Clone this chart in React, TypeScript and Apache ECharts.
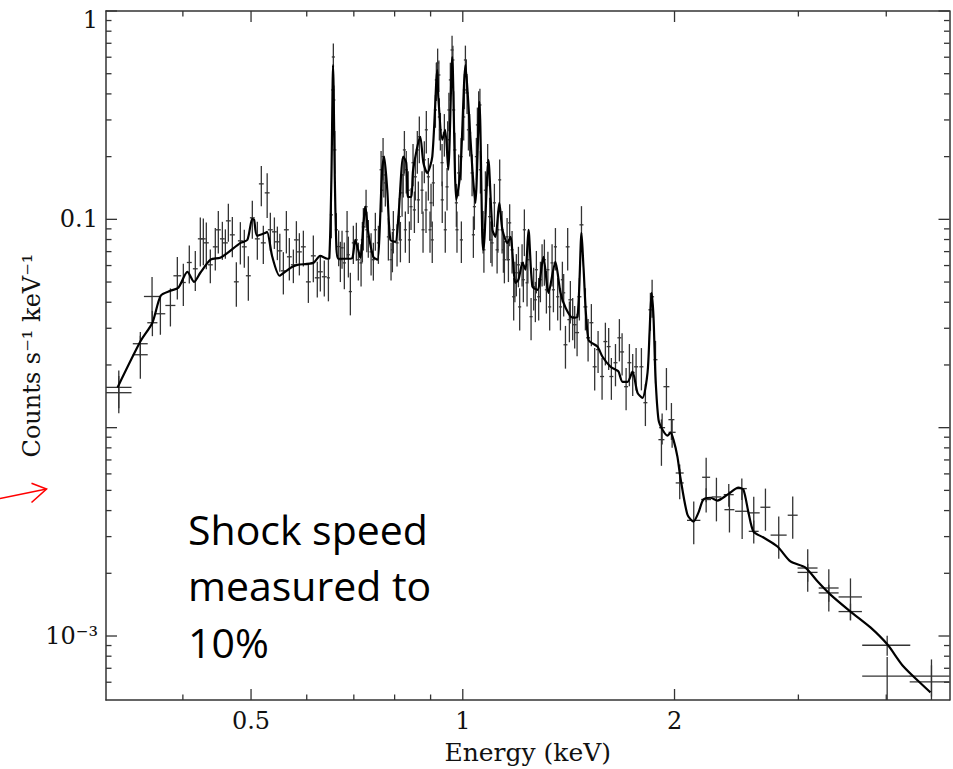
import React, { useEffect, useRef } from 'react';
import * as echarts from 'echarts';

// ---------- data ----------
const xRange = [0.311, 4.92];
const yRange = [0.000493, 1];

const xLabelValues = [0.5, 1, 2];
const xLabelTexts = ['0.5', '1', '2'];
const yLabelValues = [1, 0.1, 0.001];
const yLabelTexts = ['1', '0.1', '10⁻³'];

const xMajorTicks = [0.5, 1, 2];
const xMinorTicks = [0.4, 0.6, 0.7, 0.8, 0.9, 3, 4];
const yMajorTicks = [0.001, 0.01, 0.1, 1];
const yMinorTicks = [
  0.0006, 0.0007, 0.0008, 0.0009,
  0.002, 0.003, 0.004, 0.005, 0.006, 0.007, 0.008, 0.009,
  0.02, 0.03, 0.04, 0.05, 0.06, 0.07, 0.08, 0.09,
  0.2, 0.3, 0.4, 0.5, 0.6, 0.7, 0.8, 0.9,
];

const xTitle = 'Energy (keV)';
const yTitle = 'Counts s⁻¹ keV⁻¹';
const noteLines = ['Shock speed', 'measured to', '10%'];

// model curve: [energy keV, counts s^-1 keV^-1]
const model: [number, number][] = [
  [0.323, 0.0156], [0.348, 0.0259], [0.362, 0.0319], [0.372, 0.043], [0.384, 0.0454],
  [0.394, 0.0469], [0.406, 0.056], [0.415, 0.0501], [0.4235, 0.0554], [0.438, 0.064],
  [0.452, 0.0654], [0.463, 0.069], [0.483, 0.0771], [0.494, 0.0797], [0.502, 0.1005],
  [0.505, 0.0995], [0.51, 0.0834], [0.524, 0.0861], [0.527, 0.0871], [0.536, 0.0661],
  [0.549, 0.0536], [0.559, 0.056], [0.5725, 0.0592], [0.582, 0.0605], [0.613, 0.0618],
  [0.627, 0.0668], [0.642, 0.0647], [0.646, 0.065], [0.6504, 0.1547], [0.654, 0.55],
  [0.6578, 0.1547], [0.6611, 0.0754], [0.6655, 0.0647], [0.692, 0.0647], [0.697, 0.0654],
  [0.7035, 0.0797], [0.71, 0.0714], [0.715, 0.0654], [0.727, 0.115], [0.734, 0.0861],
  [0.746, 0.0661], [0.756, 0.064], [0.768, 0.173], [0.773, 0.2], [0.781, 0.138],
  [0.789, 0.0797], [0.802, 0.078], [0.81, 0.103], [0.823, 0.2], [0.831, 0.187],
  [0.836, 0.128], [0.845, 0.128], [0.85, 0.173], [0.87, 0.249], [0.879, 0.187],
  [0.89, 0.167], [0.905, 0.2], [0.92, 0.52], [0.923, 0.387], [0.935, 0.241],
  [0.944, 0.269], [0.9535, 0.173], [0.966, 0.6], [0.979, 0.124], [0.992, 0.167],
  [1.009, 0.55], [1.019, 0.347], [1.032, 0.173], [1.042, 0.12], [1.056, 0.366],
  [1.066, 0.0824], [1.07, 0.0714], [1.0875, 0.193], [1.102, 0.0891], [1.113, 0.0824],
  [1.127, 0.12], [1.1385, 0.0891], [1.157, 0.0771], [1.169, 0.0824], [1.188, 0.0496],
  [1.2, 0.0513], [1.216, 0.0618], [1.228, 0.0573], [1.24, 0.0891], [1.256, 0.0475],
  [1.277, 0.0459], [1.302, 0.0661], [1.324, 0.0444], [1.354, 0.0625], [1.377, 0.0444],
  [1.4, 0.0376], [1.432, 0.0337], [1.456, 0.0341], [1.475, 0.0861], [1.4845, 0.0592],
  [1.509, 0.0264], [1.554, 0.0245], [1.58, 0.0219], [1.622, 0.0196], [1.649, 0.019],
  [1.665, 0.0186], [1.687, 0.0166], [1.715, 0.0166], [1.743, 0.0186], [1.772, 0.0147],
  [1.801, 0.0139], [1.831, 0.0184], [1.843, 0.0286], [1.855, 0.0444], [1.867, 0.0341],
  [1.879, 0.0176], [1.898, 0.0109], [1.923, 0.00977], [1.9545, 0.00916], [1.974, 0.00946],
  [1.993, 0.00876], [2.019, 0.00726], [2.039, 0.00575], [2.086, 0.00383], [2.128, 0.00354],
  [2.163, 0.00391], [2.198, 0.00452], [2.25, 0.00461], [2.302, 0.00447], [2.378, 0.00477],
  [2.466, 0.00515], [2.506, 0.00504], [2.548, 0.00391], [2.59, 0.00317], [2.676, 0.00297],
  [2.801, 0.00269], [2.923, 0.00228], [3.07, 0.00213], [3.193, 0.00183], [3.332, 0.00158],
  [3.558, 0.00131], [3.798, 0.0011], [4.016, 0.00091], [4.232, 0.000714], [4.623, 0.000536],
];

// data points: [energy keV, half bin width keV, counts, 1-sigma error]
const spectrum: [number, number, number, number][] = [
  [0.3243, 0.0138, 0.01561, 0.0032], [0.3243, 0.0138, 0.01472, 0.003],
  [0.348, 0.0085, 0.02529, 0.0035], [0.348, 0.0085, 0.02239, 0.0052],
  [0.3616, 0.0095, 0.04263, 0.0103], [0.362, 0.006, 0.03189, 0.0044],
  [0.3716, 0.006, 0.03522, 0.0073], [0.384, 0.0063, 0.0386, 0.008],
  [0.3928, 0.005, 0.05358, 0.0123], [0.4006, 0.0032, 0.04975, 0.0114],
  [0.4085, 0.0033, 0.06206, 0.0128], [0.4166, 0.0033, 0.05789, 0.0126],
  [0.4235, 0.0034, 0.08062, 0.0213], [0.4277, 0.0034, 0.0806, 0.0204],
  [0.4319, 0.0035, 0.07713, 0.0195], [0.4376, 0.0035, 0.0605, 0.0111],
  [0.4448, 0.0036, 0.07379, 0.017], [0.4492, 0.0036, 0.08906, 0.0205],
  [0.4552, 0.0036, 0.0806, 0.0167], [0.4597, 0.0037, 0.0771, 0.0124],
  [0.4642, 0.0037, 0.09835, 0.0204], [0.4703, 0.0038, 0.08425, 0.0184],
  [0.4765, 0.0038, 0.05013, 0.0121], [0.4828, 0.0039, 0.07885, 0.0181],
  [0.4891, 0.0039, 0.0738, 0.0153], [0.4956, 0.004, 0.0536, 0.0129],
  [0.5021, 0.004, 0.1017, 0.021], [0.5104, 0.0041, 0.0806, 0.0167],
  [0.5171, 0.0041, 0.148, 0.0323], [0.5205, 0.0042, 0.0771, 0.016],
  [0.5271, 0.0042, 0.134, 0.0324], [0.5326, 0.0043, 0.0891, 0.0184],
  [0.5397, 0.0043, 0.0871, 0.015], [0.545, 0.0044, 0.078, 0.0143],
  [0.5494, 0.0044, 0.0706, 0.0146], [0.5558, 0.0044, 0.0566, 0.013],
  [0.5613, 0.0045, 0.0891, 0.0205], [0.5668, 0.0045, 0.0661, 0.0152],
  [0.5743, 0.0046, 0.0605, 0.0111], [0.58, 0.0046, 0.0797, 0.0183],
  [0.5857, 0.0047, 0.0698, 0.016], [0.5934, 0.0047, 0.0738, 0.0144],
  [0.6032, 0.0048, 0.0501, 0.0104], [0.6131, 0.0049, 0.0668, 0.0169],
  [0.6211, 0.005, 0.0524, 0.0102], [0.6273, 0.005, 0.056, 0.011],
  [0.6355, 0.0051, 0.053, 0.0104], [0.6441, 0.0032, 0.0524, 0.012],
  [0.6504, 0.0033, 0.1051, 0.024], [0.6536, 0.0033, 0.418, 0.072],
  [0.6546, 0.0033, 0.6016, 0.097], [0.6557, 0.0033, 0.374, 0.065],
  [0.6578, 0.0033, 0.2154, 0.05],
  [0.6611, 0.0033, 0.0891, 0.018], [0.6661, 0.0033, 0.074, 0.0145],
  [0.6698, 0.0033, 0.064, 0.014],
  [0.6735, 0.0034, 0.073, 0.0151], [0.6786, 0.0034, 0.0618, 0.0156],
  [0.6847, 0.0034, 0.0874, 0.0221], [0.6876, 0.0034, 0.0676, 0.015],
  [0.6921, 0.0035, 0.045, 0.0104],
  [0.6989, 0.0035, 0.0771, 0.016], [0.7058, 0.0035, 0.0797, 0.0165],
  [0.7104, 0.0036, 0.064, 0.0132], [0.7168, 0.0036, 0.0618, 0.0142],
  [0.7199, 0.0036, 0.0797, 0.0175],
  [0.7222, 0.0036, 0.092, 0.0212], [0.7286, 0.0036, 0.115, 0.0238],
  [0.7305, 0.0036, 0.0891, 0.0196],
  [0.734, 0.0037, 0.0824, 0.017], [0.7407, 0.0037, 0.0698, 0.016],
  [0.7462, 0.0037, 0.064, 0.0132], [0.7511, 0.0038, 0.0891, 0.0184],
  [0.7586, 0.0038, 0.0771, 0.016], [0.7653, 0.0038, 0.173, 0.04],
  [0.7673, 0.0038, 0.138, 0.03], [0.7723, 0.0039, 0.1634, 0.036],
  [0.7703, 0.0039, 0.2, 0.046], [0.7761, 0.0039, 0.1496, 0.0344],
  [0.7838, 0.0039, 0.0824, 0.019], [0.7907, 0.004, 0.064, 0.0132],
  [0.7942, 0.004, 0.0714, 0.0157],
  [0.7967, 0.004, 0.0891, 0.0205], [0.8064, 0.004, 0.0771, 0.0177],
  [0.8125, 0.0041, 0.103, 0.0237], [0.8153, 0.0041, 0.0797, 0.0175],
  [0.8198, 0.0041, 0.134, 0.031],
  [0.8229, 0.0041, 0.1634, 0.036],
  [0.826, 0.0041, 0.2154, 0.05], [0.8286, 0.0041, 0.0891, 0.02],
  [0.831, 0.0042, 0.173, 0.04],
  [0.8364, 0.0042, 0.138, 0.032], [0.8396, 0.0042, 0.0797, 0.018],
  [0.8441, 0.0042, 0.115, 0.026],
  [0.8497, 0.0042, 0.187, 0.043], [0.8535, 0.0043, 0.111, 0.025],
  [0.8561, 0.0043, 0.16, 0.037],
  [0.8617, 0.0043, 0.2154, 0.05], [0.8646, 0.0043, 0.124, 0.028],
  [0.8674, 0.0043, 0.249, 0.063],
  [0.8751, 0.0044, 0.138, 0.032], [0.878, 0.0044, 0.0891, 0.02],
  [0.8817, 0.0044, 0.193, 0.044],
  [0.8866, 0.0044, 0.111, 0.025],
  [0.8875, 0.0044, 0.269, 0.062], [0.8934, 0.0045, 0.16, 0.037],
  [0.8983, 0.0045, 0.0891, 0.02],
  [0.9013, 0.0045, 0.12, 0.028], [0.9049, 0.0045, 0.0797, 0.018],
  [0.9081, 0.0045, 0.1496, 0.034],
  [0.9143, 0.0046, 0.335, 0.06],
  [0.9171, 0.0046, 0.467, 0.097], [0.921, 0.0046, 0.563, 0.097],
  [0.9247, 0.0046, 0.493, 0.085],
  [0.9262, 0.0046, 0.31, 0.071], [0.9293, 0.0046, 0.269, 0.055],
  [0.9344, 0.0047, 0.187, 0.043], [0.935, 0.0047, 0.124, 0.028],
  [0.9415, 0.0047, 0.26, 0.06], [0.9443, 0.0047, 0.0891, 0.02],
  [0.9498, 0.0047, 0.1432, 0.033],
  [0.9517, 0.0048, 0.241, 0.055], [0.9556, 0.0048, 0.335, 0.07],
  [0.9601, 0.0048, 0.467, 0.097],
  [0.9655, 0.0048, 0.65, 0.11], [0.9681, 0.0048, 0.582, 0.1],
  [0.9706, 0.0049, 0.335, 0.077], [0.9745, 0.0049, 0.2154, 0.045],
  [0.9792, 0.0049, 0.12, 0.028], [0.9812, 0.0049, 0.0891, 0.02],
  [0.9866, 0.0049, 0.167, 0.038],
  [0.9945, 0.005, 0.2, 0.046], [0.9954, 0.005, 0.0797, 0.018],
  [1.003, 0.005, 0.31, 0.071], [1.0053, 0.005, 0.418, 0.08],
  [1.0086, 0.005, 0.582, 0.1], [1.0118, 0.0051, 0.493, 0.09],
  [1.0141, 0.0051, 0.404, 0.084], [1.0186, 0.0051, 0.269, 0.055],
  [1.0228, 0.0051, 0.26, 0.06], [1.0309, 0.0052, 0.167, 0.038],
  [1.0353, 0.0052, 0.0843, 0.019],
  [1.0387, 0.0052, 0.115, 0.026], [1.0455, 0.0052, 0.2, 0.046],
  [1.049, 0.0052, 0.284, 0.06],
  [1.0534, 0.0053, 0.335, 0.077], [1.0577, 0.0053, 0.354, 0.07],
  [1.0593, 0.0053, 0.173, 0.04],
  [1.0687, 0.0053, 0.0891, 0.0205], [1.0716, 0.0054, 0.0714, 0.016],
  [1.0768, 0.0054, 0.138, 0.032],
  [1.0849, 0.0054, 0.187, 0.043], [1.0921, 0.0055, 0.103, 0.024],
  [1.0963, 0.0055, 0.0797, 0.018],
  [1.1007, 0.0055, 0.0771, 0.0177], [1.109, 0.0055, 0.12, 0.028],
  [1.1189, 0.0056, 0.0714, 0.0164], [1.1218, 0.0056, 0.0891, 0.02],
  [1.1284, 0.0056, 0.1547, 0.039],
  [1.1373, 0.0057, 0.0891, 0.0205], [1.1422, 0.0057, 0.0714, 0.016],
  [1.1459, 0.0057, 0.064, 0.0147],
  [1.1561, 0.0058, 0.0824, 0.019], [1.1611, 0.0058, 0.064, 0.014],
  [1.1659, 0.0058, 0.0962, 0.022],
  [1.1751, 0.0059, 0.0714, 0.0164], [1.1813, 0.0059, 0.0425, 0.0098],
  [1.186, 0.0059, 0.0513, 0.0113],
  [1.1917, 0.006, 0.0554, 0.0127], [1.1998, 0.006, 0.0605, 0.0133],
  [1.2047, 0.006, 0.038, 0.0087],
  [1.2142, 0.0061, 0.0618, 0.0142], [1.2193, 0.0061, 0.0513, 0.0113],
  [1.2234, 0.0061, 0.0891, 0.0225],
  [1.2342, 0.0062, 0.0496, 0.0114], [1.2375, 0.0062, 0.064, 0.014],
  [1.2505, 0.0063, 0.0341, 0.0078],
  [1.2612, 0.0063, 0.0475, 0.011], [1.2682, 0.0064, 0.0411, 0.009],
  [1.2724, 0.0064, 0.0573, 0.0132],
  [1.282, 0.0064, 0.0425, 0.0098], [1.2893, 0.0064, 0.0513, 0.0113],
  [1.2964, 0.0065, 0.0618, 0.0142],
  [1.3062, 0.0065, 0.064, 0.016], [1.3148, 0.0066, 0.0459, 0.0106],
  [1.3213, 0.0066, 0.0573, 0.0126],
  [1.329, 0.0066, 0.038, 0.0087], [1.3395, 0.0067, 0.0618, 0.0142],
  [1.3454, 0.0067, 0.0459, 0.0101],
  [1.3543, 0.0068, 0.0738, 0.017], [1.3643, 0.0068, 0.0425, 0.0098],
  [1.3767, 0.0069, 0.038, 0.0087], [1.3855, 0.0069, 0.0513, 0.0113],
  [1.3914, 0.007, 0.0444, 0.0102],
  [1.3995, 0.009, 0.025, 0.0058], [1.4097, 0.009, 0.0738, 0.017],
  [1.4177, 0.0092, 0.033, 0.0073],
  [1.4222, 0.0092, 0.0411, 0.0095], [1.433, 0.0093, 0.0341, 0.0078],
  [1.4424, 0.0094, 0.0312, 0.0072], [1.4538, 0.0094, 0.0286, 0.0066],
  [1.4648, 0.0095, 0.0425, 0.0098], [1.4748, 0.0096, 0.0941, 0.0216],
  [1.4939, 0.0097, 0.038, 0.0087], [1.5071, 0.0098, 0.027, 0.0062],
  [1.5234, 0.0099, 0.0319, 0.0073], [1.54, 0.01, 0.0196, 0.0045],
  [1.5572, 0.0101, 0.0237, 0.0054], [1.5777, 0.0103, 0.0176, 0.004],
  [1.5949, 0.0104, 0.0259, 0.006], [1.6122, 0.0105, 0.0245, 0.0056],
  [1.6265, 0.0106, 0.0176, 0.004], [1.6485, 0.0107, 0.0205, 0.0047],
  [1.6697, 0.0109, 0.027, 0.0062], [1.6845, 0.011, 0.0231, 0.0053],
  [1.7068, 0.0111, 0.01573, 0.0036], [1.7253, 0.0112, 0.0205, 0.0047],
  [1.7441, 0.0113, 0.0184, 0.0042], [1.7636, 0.0115, 0.0196, 0.0045],
  [1.7945, 0.0117, 0.0196, 0.0045], [1.8181, 0.0118, 0.01318, 0.003],
  [1.8482, 0.012, 0.0368, 0.0076], [1.8585, 0.0121, 0.0425, 0.0088],
  [1.8793, 0.0122, 0.0212, 0.0049], [1.9161, 0.0188, 0.00876, 0.0022],
  [1.9205, 0.0188, 0.01, 0.0017], [1.9477, 0.019, 0.01573, 0.0036],
  [1.9798, 0.0194, 0.01093, 0.0022], [1.9844, 0.0228, 0.0095, 0.0015],
  [2.0343, 0.0266, 0.00606, 0.0006], [2.0343, 0.0266, 0.00543, 0.0009],
  [2.1299, 0.0467, 0.00359, 0.00083], [2.2182, 0.029, 0.00578, 0.0014],
  [2.2182, 0.036, 0.00452, 0.0006], [2.2941, 0.0375, 0.00465, 0.0011],
  [2.3886, 0.039, 0.00477, 0.0006], [2.394, 0.039, 0.00404, 0.0009],
  [2.4956, 0.057, 0.00397, 0.00105], [2.493, 0.041, 0.0051, 0.0006],
  [2.5922, 0.051, 0.0039, 0.00076], [2.5922, 0.042, 0.00318, 0.0004],
  [2.6934, 0.044, 0.00415, 0.00095], [2.8131, 0.074, 0.00305, 0.0007],
  [2.9449, 0.048, 0.0038, 0.00087], [3.0931, 0.101, 0.00212, 0.00049],
  [3.0931, 0.101, 0.00202, 0.0002], [3.3142, 0.108, 0.0017, 0.00039],
  [3.3142, 0.108, 0.00161, 0.00015], [3.5577, 0.136, 0.00154, 0.00035],
  [3.5577, 0.136, 0.00131, 0.00012], [4.012, 0.315, 0.000903, 0.0001],
  [4.012, 0.315, 0.000642, 0.00015], [4.638, 0.319, 0.000642, 0.00013],
  [4.638, 0.319, 0.000603, 0.00012],
];

// ---------- styling ----------
const AXIS = '#333333';
const SERIF = '"DejaVu Serif", serif';

function matchLabel(values: number[], texts: string[], v: number) {
  const i = values.findIndex((t) => Math.abs(t - v) / t < 1e-6);
  return i >= 0 ? texts[i] : '';
}

function tickSeries(kind: 'x' | 'y', values: number[], len: number) {
  return {
    type: 'custom',
    coordinateSystem: 'cartesian2d',
    silent: true,
    z: 6,
    data: values.map((v) => (kind === 'x' ? [v, 0.01] : [1, v])),
    renderItem: (params: any, api: any) => {
      const cs = params.coordSys;
      const p = api.coord([api.value(0), api.value(1)]);
      const st = { stroke: AXIS, lineWidth: 1.3 };
      if (kind === 'x') {
        return {
          type: 'group',
          children: [
            { type: 'line', shape: { x1: p[0], y1: cs.y + cs.height, x2: p[0], y2: cs.y + cs.height - len }, style: st },
            { type: 'line', shape: { x1: p[0], y1: cs.y, x2: p[0], y2: cs.y + len }, style: st },
          ],
        };
      }
      return {
        type: 'group',
        children: [
          { type: 'line', shape: { x1: cs.x, y1: p[1], x2: cs.x + len, y2: p[1] }, style: st },
          { type: 'line', shape: { x1: cs.x + cs.width, y1: p[1], x2: cs.x + cs.width - len, y2: p[1] }, style: st },
        ],
      };
    },
  };
}

export default function App() {
  const ref = useRef<HTMLDivElement>(null);

  useEffect(() => {
    if (!ref.current) return;
    const chart = echarts.init(ref.current, null, { renderer: 'svg' });

    const baseAxisLine = { show: true, lineStyle: { color: AXIS, width: 1.5 } };

    const option: any = {
      animation: false,
      backgroundColor: '#ffffff',
      grid: { left: 106, top: 11, width: 843.5, height: 689, containLabel: false, outerBoundsMode: 'none' },
      xAxis: [
        {
          type: 'log', logBase: 2, min: xRange[0], max: xRange[1], position: 'bottom',
          axisLine: baseAxisLine, axisTick: { show: false }, splitLine: { show: false },
          axisLabel: {
            margin: 9, color: '#111', fontFamily: SERIF, fontSize: 24,
            formatter: (v: number) => matchLabel(xLabelValues, xLabelTexts, v),
          },
          name: xTitle, nameLocation: 'middle', nameGap: 40, nameMoveOverlap: false,
          nameTextStyle: { color: '#111', fontFamily: SERIF, fontSize: 25 },
        },
        {
          type: 'log', logBase: 2, min: xRange[0], max: xRange[1], position: 'top',
          axisLine: baseAxisLine, axisTick: { show: false }, splitLine: { show: false },
          axisLabel: { show: false },
        },
      ],
      yAxis: [
        {
          type: 'log', logBase: 10, min: yRange[0], max: yRange[1], position: 'left',
          axisLine: baseAxisLine, axisTick: { show: false }, splitLine: { show: false },
          axisLabel: {
            margin: 8, color: '#111', fontFamily: SERIF, fontSize: 24,
            formatter: (v: number) => {
              const t = matchLabel(yLabelValues, yLabelTexts, v);
              return t === '1' ? '{one|1}' : t;
            },
            rich: { one: { fontFamily: SERIF, fontSize: 24, color: '#111', padding: [18, 0, 0, 0] } },
          },
          name: yTitle, nameLocation: 'middle', nameRotate: 90, nameGap: 62, nameMoveOverlap: false,
          nameTextStyle: { color: '#111', fontFamily: SERIF, fontSize: 24 },
        },
        {
          type: 'log', logBase: 10, min: yRange[0], max: yRange[1], position: 'right',
          axisLine: baseAxisLine, axisTick: { show: false }, splitLine: { show: false },
          axisLabel: { show: false },
        },
      ],
      series: [
        {
          type: 'custom',
          coordinateSystem: 'cartesian2d',
          silent: true,
          z: 2,
          encode: { x: 0, y: 2 },
          data: spectrum,
          renderItem: (params: any, api: any) => {
            const E = api.value(0), dE = api.value(1), C = api.value(2), s = api.value(3);
            const cs = params.coordSys;
            const cx = (v: number) => Math.min(cs.x + cs.width, Math.max(cs.x, v));
            const cy = (v: number) => Math.min(cs.y + cs.height, Math.max(cs.y, v));
            const l = api.coord([E - dE, C]);
            const r = api.coord([E + dE, C]);
            const t = api.coord([E, C + s]);
            const b = api.coord([E, Math.max(C - s, 1e-7)]);
            const st = { stroke: '#333333', lineWidth: 1.3 };
            return {
              type: 'group',
              children: [
                { type: 'line', shape: { x1: cx(l[0]), y1: cy(l[1]), x2: cx(r[0]), y2: cy(r[1]) }, style: st },
                { type: 'line', shape: { x1: cx(t[0]), y1: cy(t[1]), x2: cx(b[0]), y2: cy(b[1]) }, style: st },
              ],
            };
          },
        },
        {
          type: 'line',
          data: model,
          showSymbol: false,
          symbol: 'none',
          smooth: 0.25,
          clip: true,
          z: 4,
          lineStyle: { color: '#000000', width: 2.2 },
        },
        tickSeries('x', xMajorTicks, 11),
        tickSeries('x', xMinorTicks, 5.5),
        tickSeries('y', yMajorTicks, 11),
        tickSeries('y', yMinorTicks, 5.5),
      ],
      graphic: [
        ...noteLines.map((txt, i) => ({
          type: 'text',
          left: 188,
          top: 508 + i * 56.5,
          style: { text: txt, font: '41px "Open Sans", "Noto Sans", sans-serif', fill: '#000000' },
        })),
        {
          type: 'polyline',
          shape: { points: [[0, 498.5], [46.5, 489]] },
          style: { stroke: '#ff0000', lineWidth: 1.6, fill: 'none' },
        },
        {
          type: 'polyline',
          shape: { points: [[31.5, 483.3], [46.5, 489], [31.5, 502.5]] },
          style: { stroke: '#ff0000', lineWidth: 1.6, fill: 'none' },
        },
      ],
    };

    chart.setOption(option);
    return () => chart.dispose();
  }, []);

  return (
    <div
      ref={ref}
      style={{ position: 'absolute', left: 0, top: 0, width: 953, height: 769, background: '#fff' }}
    />
  );
}
